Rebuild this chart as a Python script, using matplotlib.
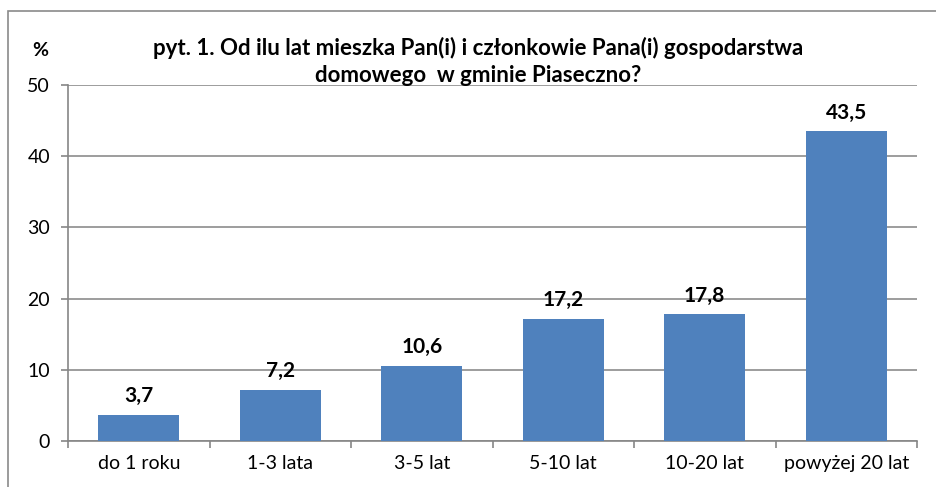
import matplotlib
matplotlib.use("Agg")
import matplotlib.pyplot as plt
from matplotlib.patches import Rectangle
import numpy as np

categories = ["do 1 roku", "1-3 lata", "3-5 lat", "5-10 lat", "10-20 lat", "powyżej 20 lat"]
values = [3.7, 7.2, 10.6, 17.2, 17.8, 43.5]
value_labels = ["3,7", "7,2", "10,6", "17,2", "17,8", "43,5"]
yticks = [0, 10, 20, 30, 40, 50]
title = "pyt. 1. Od ilu lat mieszka Pan(i) i członkowie Pana(i) gospodarstwa\ndomowego  w gminie Piaseczno?"

plt.rcParams['font.family'] = ['Lato', 'DejaVu Sans']

W, H = 936, 487
fig = plt.figure(figsize=(W/100, H/100), dpi=100)
fig.patch.set_facecolor("white")

# outer border
fig.patches.append(Rectangle((8/W, -0.1), 1.2, 1 - 11/H + 0.1, transform=fig.transFigure,
                             fill=False, edgecolor="#8a8a8a", linewidth=1.2))

ax = fig.add_axes([68/W, 46/H, (917-68)/W, (441-85)/H])
x = np.arange(len(categories))
bar_color = "#4F81BD"
ax.bar(x, values, width=0.57, color=bar_color, zorder=3)

for xi, v, lab in zip(x, values, value_labels):
    ax.annotate(lab, (xi, v), xytext=(0, 6), textcoords="offset points",
                ha="center", va="bottom", fontsize=15, fontweight="bold", color="#000000")

ax.set_xlim(-0.5, len(categories) - 0.5)
ax.set_ylim(0, 50)
ax.set_yticks(yticks)
ax.set_yticklabels([str(t) for t in yticks], fontsize=14)
ax.set_xticks(x)
ax.set_xticklabels(categories, fontsize=14)
ax.set_xticks(np.arange(-0.5, len(categories) + 0.5, 1), minor=True)
ax.tick_params(axis="x", which="major", length=0, pad=10)
ax.tick_params(axis="x", which="minor", length=5, width=1.2, color="#868686", direction="out")
ax.tick_params(axis="y", length=5, width=1.2, color="#868686", direction="out", pad=8)

ax.yaxis.grid(True, color="#8c8c8c", linewidth=1.2, zorder=0)
ax.set_axisbelow(True)
for s in ["top", "right"]:
    ax.spines[s].set_visible(False)
for s in ["left", "bottom"]:
    ax.spines[s].set_color("#868686")
    ax.spines[s].set_linewidth(1.2)

fig.text(40/W, 1 - 50/H, "%", ha="center", va="center", fontsize=14, fontweight="bold")
fig.text(478/W, 1 - 61/H, title, ha="center", va="center", fontsize=16,
         fontweight="bold", linespacing=1.35)

fig.savefig("out.png", dpi=100, facecolor="white")
